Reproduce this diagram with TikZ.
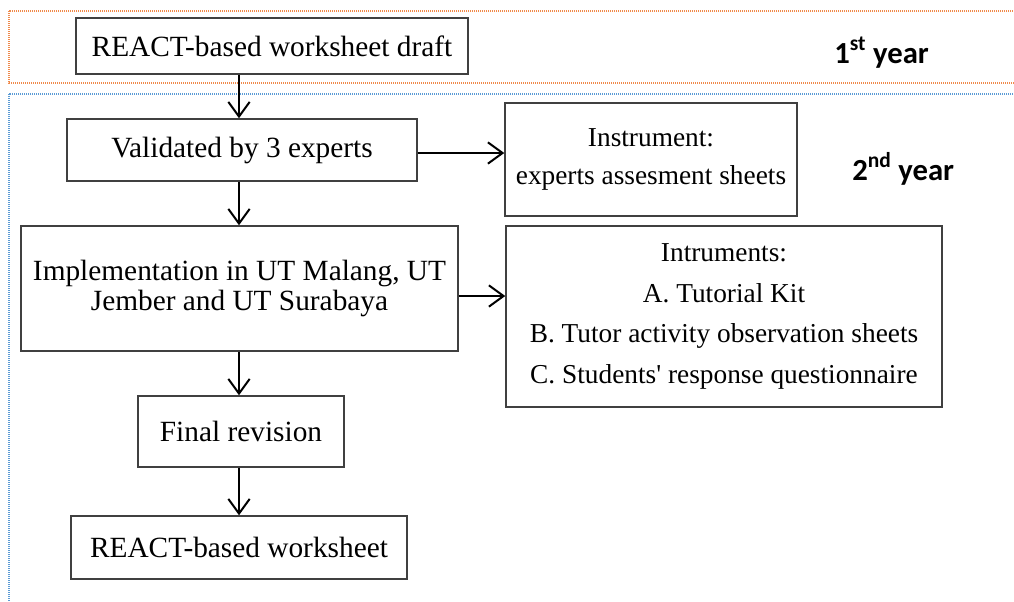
\documentclass[tikz,border=0pt]{standalone}
\usepackage{fontspec}
\setmainfont{Liberation Serif}
\newfontfamily\yearfont{Carlito}
\usetikzlibrary{arrows.meta,calc}
\definecolor{orangedot}{HTML}{F08A4B}
\definecolor{bluedot}{HTML}{5B9BD5}
\definecolor{boxline}{HTML}{404040}
\begin{document}
\begin{tikzpicture}[x=0.75pt,y=-0.75pt,
  stepbox/.style={draw=boxline,line width=1.1pt,inner sep=0pt,align=center,
    font=\fontsize{22}{22.5}\selectfont},
  insbox/.style={draw=boxline,line width=1.1pt,inner sep=0pt,align=center},
  arr/.style={line width=1.5pt,-{Straight Barb[length=11pt,width=16pt,line width=1.5pt]}},
  yeardot/.style={line width=0.9pt,dash pattern=on 0.9pt off 0.6pt},
  yearlab/.style={font=\yearfont\bfseries\fontsize{23}{23}\selectfont,inner sep=0pt,anchor=base west}]
\useasboundingbox (0,0) rectangle (1014,601);
\clip (0,0) rectangle (1014,601);
% year bands
\draw[yeardot,draw=orangedot] (9,11) rectangle (1030,83);
\draw[yeardot,draw=bluedot] (9,94) rectangle (1030,620);
% boxes
\node[stepbox,minimum width=294pt,minimum height=42pt] (b1) at (272,46) {REACT-based worksheet draft};
\node[stepbox,minimum width=262.5pt,minimum height=46.5pt] (val) at (242,150) {Validated by 3 experts};
\node[insbox,minimum width=219pt,minimum height=84.75pt,font=\fontsize{20.5}{29}\selectfont] (ins1) at (651,159.5) {Instrument:\\experts assesment sheets};
\node[stepbox,minimum width=327.75pt,minimum height=93.75pt] (impl) at (239.5,288.5) {Implementation in UT Malang, UT\\Jember and UT Surabaya};
\node[insbox,minimum width=327pt,minimum height=135.75pt,font=\fontsize{20.5}{30.5}\selectfont] (ins2) at (724,316.5) {Intruments:\\A. Tutorial Kit\\B. Tutor activity observation sheets\\C. Students\textquotesingle\ response questionnaire};
\node[stepbox,minimum width=154.5pt,minimum height=53.25pt] (fin) at (241,431.5) {Final revision};
\node[stepbox,minimum width=252pt,minimum height=47.25pt] (last) at (239,547.5) {REACT-based worksheet};
% arrows
\coordinate (ax) at (239,0);
\draw[arr] (b1.south -| ax) -- (val.north -| ax);
\draw[arr] (val.south -| ax) -- (impl.north -| ax);
\draw[arr] (impl.south -| ax) -- (fin.north -| ax);
\draw[arr] (fin.south -| ax) -- (last.north -| ax);
\coordinate (r1) at (0,153);
\coordinate (r2) at (0,296);
\draw[arr] (val.east |- r1) -- (ins1.west |- r1);
\draw[arr] (impl.east |- r2) -- (ins2.west |- r2);
% year labels
\node[yearlab] (y1) at (834,63) {1\textsuperscript{st} year};
\node[yearlab] (y2) at (852,180) {2\textsuperscript{nd} year};
\end{tikzpicture}
\end{document}
